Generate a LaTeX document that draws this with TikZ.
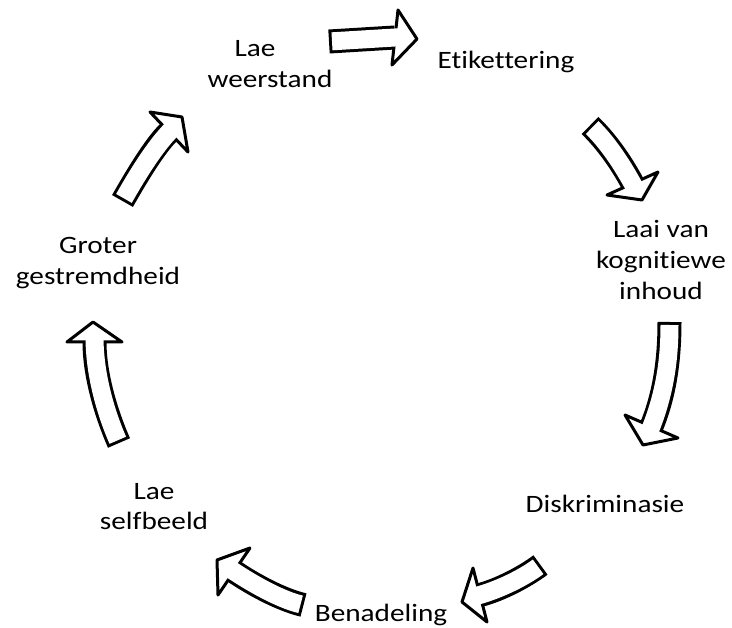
\documentclass[tikz,border=0pt]{standalone}
\usepackage{fontspec}
\setmainfont{Carlito}[FakeStretch=1.17, Ligatures=NoCommon]
\tikzset{
  lbl/.style={font=\fontsize{25}{31}\selectfont, align=center, inner sep=0pt, anchor=base},
  shaftout/.style={line width=24pt, black, line cap=butt},
  shaftin/.style={line width=18pt, white, line cap=butt, shorten <=3pt, shorten >=-5pt},
  headst/.style={fill=white, draw=black, line width=3pt, line join=round}
}
\newcommand{\blockarr}[7]{%
  \draw[shaftout] #1 .. controls #2 and #3 .. #4;
  \filldraw[headst] #5 -- #6 -- #7 -- cycle;
  \draw[shaftin] #1 .. controls #2 and #3 .. #4;
}
\begin{document}
\begin{tikzpicture}[x=1pt,y=-1pt]
\useasboundingbox (0,0) rectangle (732,628);
% labels (anchor = baseline of the last line)
\node[lbl] (lw) at (270,88) {Lae\hspace*{30pt}\\weerstand};
\node[lbl] (et) at (506,69) {Etikettering};
\node[lbl] (lk) at (661,300) {Laai van\\kognitiewe\\inhoud};
\node[lbl] (di) at (605,513) {Diskriminasie};
\node[lbl] (be) at (381,621) {Benadeling};
\node[lbl] (ls) at (154,530) {Lae\\selfbeeld};
\node[lbl] (gg) at (98,285) {Groter\\gestremdheid};
% block arrows
\blockarr{(329,41.5)}{(351,40.2)}{(373,38.8)}{(395,37.5)}{(398,10)}{(417,39)}{(392,65)}
\blockarr{(590,125.5)}{(606,141)}{(621,162)}{(632.5,183.5)}{(607,195)}{(642,200)}{(658,172)}
\blockarr{(669.5,322)}{(669.5,362)}{(664,396)}{(651.5,426.5)}{(678,438)}{(643,445)}{(625,415)}
\blockarr{(540.5,565)}{(524.5,577)}{(499.4,590)}{(480,595)}{(473,568)}{(462,602)}{(487,622)}
\blockarr{(303.5,605)}{(281,599.7)}{(253,584.4)}{(234,571.5)}{(250,548)}{(217,560)}{(218,595)}
\blockarr{(119,443)}{(106.7,415)}{(94.5,376)}{(94.5,342)}{(67,342)}{(93,322)}{(122,342)}
\blockarr{(122.5,201)}{(135,179)}{(154.6,145.8)}{(169,132)}{(150,112)}{(182,117)}{(188,152)}
\end{tikzpicture}
\end{document}
